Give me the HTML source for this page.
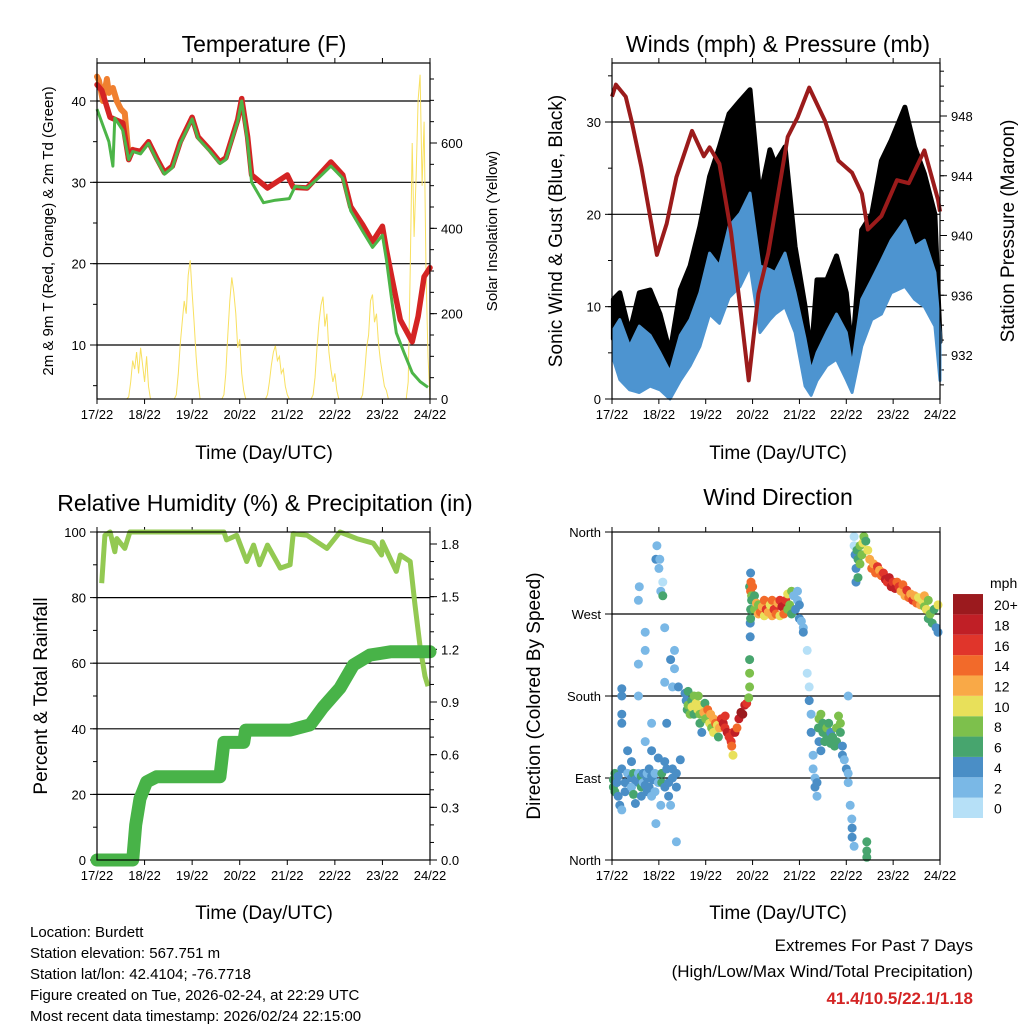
<!DOCTYPE html>
<html><head><meta charset="utf-8"><style>
html,body{margin:0;padding:0;background:#fff;}
svg{display:block;font-family:"Liberation Sans",Arial,sans-serif;}
</style></head><body>
<svg id="s" width="1024" height="1024" viewBox="0 0 1024 1024" xmlns="http://www.w3.org/2000/svg">
<rect x="0" y="0" width="1024" height="1024" fill="#fff"/>
<text x="264" y="52" font-size="23" text-anchor="middle">Temperature (F)</text>
<text x="778" y="52" font-size="23" text-anchor="middle">Winds (mph) &amp; Pressure (mb)</text>
<text x="265" y="511" font-size="23" text-anchor="middle">Relative Humidity (%) &amp; Precipitation (in)</text>
<text x="778" y="505" font-size="23" text-anchor="middle">Wind Direction</text>
<text x="264" y="459" font-size="19" text-anchor="middle">Time (Day/UTC)</text>
<text x="778" y="459" font-size="19" text-anchor="middle">Time (Day/UTC)</text>
<text x="264" y="919" font-size="19" text-anchor="middle">Time (Day/UTC)</text>
<text x="778" y="919" font-size="19" text-anchor="middle">Time (Day/UTC)</text>
<text transform="translate(53,231) rotate(-90)" font-size="15" text-anchor="middle">2m &amp; 9m T (Red, Orange) &amp; 2m Td (Green)</text>
<text transform="translate(497,231) rotate(-90)" font-size="15" text-anchor="middle">Solar Insolation (Yellow)</text>
<text transform="translate(562,231) rotate(-90)" font-size="19" text-anchor="middle">Sonic Wind &amp; Gust (Blue, Black)</text>
<text transform="translate(1014,231) rotate(-90)" font-size="19" text-anchor="middle">Station Pressure (Maroon)</text>
<text transform="translate(47,696) rotate(-90)" font-size="19" text-anchor="middle">Percent &amp; Total Rainfall</text>
<text transform="translate(540,696) rotate(-90)" font-size="19" text-anchor="middle">Direction (Colored By Speed)</text>
<g font-size="15">
<text x="30" y="937">Location: Burdett</text>
<text x="30" y="958">Station elevation: 567.751 m</text>
<text x="30" y="979">Station lat/lon: 42.4104; -76.7718</text>
<text x="30" y="1000">Figure created on Tue, 2026-02-24, at 22:29 UTC</text>
<text x="30" y="1021">Most recent data timestamp: 2026/02/24 22:15:00</text>
</g>
<g font-size="17" text-anchor="end">
<text x="973" y="951">Extremes For Past 7 Days</text>
<text x="973" y="977">(High/Low/Max Wind/Total Precipitation)</text>
<text x="973" y="1004" fill="#d42424" font-weight="bold">41.4/10.5/22.1/1.18</text>
</g>
<g id="g"></g>
</svg>
<script>
const dayLabels=["17/22","18/22","19/22","20/22","21/22","22/22","23/22","24/22"];
// temperature
const tT=[0,2.4,6.6,13,16,18,22,26,30,34,38,42,48,51,57,62,65,71,73,76,78,86,96,99,106,112,118,124,128,134,139,144,146,149,153,159,162,165,168];
const tempR=[42,41.3,38,37.3,32.8,34,33.8,35,33,31.2,32,35,38,35.6,34,32.5,33,37.7,40.3,35.6,30.9,29.3,30.9,29.4,29.3,30.9,32.5,30.9,27,24.8,22.7,24.6,21.7,18,13.1,10.4,13.5,18.4,19.5];
const tO=[0,1,3,5,6,8,10,12,14,16,18];
const tempO=[43,42.5,40,42.7,41,41.6,40,39,38.5,33,34];
const tD=[0,3,6,8,9,13,16,18,22,26,30,34,38,42,48,51,57,62,65,71,73,76,78,84,90,97,100,106,112,118,124,128,134,139,144,146,149,151,155,159,163,167];
const dew=[39,37,35,32,37.9,36.4,32.8,33.8,33.5,34.8,32.8,31,31.8,34.8,37.8,35.4,33.8,32.3,32.8,37.5,40,35,30,27.5,27.8,28,29.5,29.3,30.6,32,30.5,26.5,24,22,23.5,20.5,15,11.5,9,6.6,5.5,4.8];
const solar=[0,0,0,0,0,0,0,0,0,0,0,0,0,0,0,0,5,40,90,70,110,60,120,80,40,100,30,0,0,0,0,0,0,0,0,0,0,0,0,0,10,60,130,180,230,200,290,325,250,180,100,40,0,0,0,0,0,0,0,0,0,0,0,0,10,60,150,230,285,250,200,120,140,60,20,0,0,0,0,0,0,0,0,0,0,0,10,40,80,110,125,90,100,60,70,30,10,0,0,0,0,0,0,0,0,0,0,0,0,10,50,120,180,220,240,170,200,110,70,40,60,20,0,0,0,0,0,0,0,0,0,0,0,0,10,60,120,150,230,245,180,200,130,90,60,30,20,0,0,0,0,0,0,0,0,0,0,40,300,600,380,520,700,760,500,650,300,100,0];
// winds
const windT=[0.7,4,9,14,19.5,24.6,29.7,35,40,45,50,55,60,65.6,70.7,75.8,80.9,83.5,88.6,93.8,98.9,102,105,110,115,120,123,127.9,133,138,143,150,155,160,165.4,168];
const windHi=[7.5,8.6,5.7,7.9,6.9,5,2.9,6.9,8.6,11.5,15.8,14.4,18.7,20.1,22.3,14.4,14,13.7,15.8,11.5,6.5,3,5,7.2,9.2,7.2,3.5,10.8,12.9,15,17.2,19.3,16.5,17.2,13.7,7.2];
const windLo=[4.3,2.1,1,0.7,1.4,1,0,2,3.6,5.7,9.2,8.2,11,12.2,14.4,7.2,8.6,9.2,10,7.2,1.4,0.4,2,3.6,4.3,2.1,0.7,5.7,8.6,9.2,11.5,12.2,10.8,10,7.9,2];
const gustHi=[10.8,11.5,7.2,11.5,11.8,9.2,5,11.8,14.4,18.7,24.1,27.3,30.9,32.3,33.5,21.9,27,25.5,27.3,16.5,10,4.7,12.9,12.9,15.5,11.5,4.7,18.3,20,25.8,28,31.6,27.3,24.4,20,6.5];
const gustLo=[6.5,7.6,4.7,6.9,5.9,4,1.9,5.9,7.6,10.5,14.8,13.4,17.7,19.1,21.3,13.4,13,12.7,14.8,10.5,5.5,2,4,6.2,8.2,6.2,2.5,9.8,11.9,14,16.2,18.3,15.5,16.2,12.7,6.2];
const presT=[0,2,7,10,15,23,28,33,41,47,50,55,61,66,70,75,80,90,95,101,109,116,123,128,131,138,146,152,160,167,168];
const pres=[949.3,950.1,949.3,947.7,944.6,938.7,940.8,943.9,947,945.3,945.9,944.8,940.2,934.8,930.3,936.1,938.8,946.6,947.9,949.9,947.7,945,944.2,942.8,940.4,941.3,943.7,943.5,945.7,942.4,941.6];
// humidity / precip
const rhT=[2.35,4,6.6,9,10,14,16.6,64,65.4,70.5,75.5,79,82,86,92.5,97.4,99,106,116,122.6,131,139.4,143.6,144,151,153,158,160.4,163,165.5,167];
const rh=[84.4,99,100,94,98,95,100,100,97.6,99,91,96,90,96,89,90,99.5,99,95,100,98,96.6,93,97,88,93,91,78,65,56,53];
const precipT=[0,18,19.5,21.7,25,30,62,64,74,75,97.4,107.5,114,122.6,129.3,137.7,148,168];
const precip=[0,0,0.2,0.35,0.445,0.474,0.474,0.67,0.67,0.74,0.74,0.77,0.87,0.98,1.11,1.167,1.186,1.186];
// wind direction [t, deg, mph]
const dirObs=[[0.7,88,6],[0.7,80,6],[1.5,95,6],[1.5,75,6],[2.5,85,5],[3.2,92,4],[3.2,70,4],[4,60,4],[5,55,2],[5,100,4],[5,160,4],[5,180,4],[5,188,4],[5,150,4],[6.7,75,4],[6.7,85,4],[8,95,3],[8,120,4],[10,90,4],[10,80,3],[10,108,4],[11,95,6],[11,72,6],[12,88,4],[12,62,4],[13.5,95,3],[13.5,85,4],[13.5,180,3],[13.5,215,2],[13.5,285,2],[14,300,2],[15,92,6],[15,80,6],[15,70,5],[16,95,4],[16,85,3],[17,82,4],[17,130,2],[17,230,3],[17,250,2],[18,90,4],[18,75,4],[18,95,3],[19,80,4],[19,100,5],[20.3,92,4],[20.3,70,3],[20.3,150,3],[20.3,120,4],[21,88,4],[22,95,3],[22,75,3],[22.5,40,2],[22.5,330,4],[23,345,2],[23.7,85,3],[23.7,112,4],[24,320,2],[24.5,330,2],[25,295,2],[25,60,2],[25.5,85,6],[25.5,95,6],[26,305,1],[26,290,6],[27,195,2],[27,108,4],[27,255,2],[27.1,80,4],[28,150,4],[28,100,4],[29,85,4],[29,70,4],[30,220,4],[30,60,2],[31,90,4],[31,100,4],[31,190,2],[32,210,2],[32,230,2],[33,95,4],[33,80,4],[33,20,2],[34,190,4],[35,110,4],
[37.4,183,4],[38,175,4],[38.5,165,6],[39,185,6],[39,170,8],[40,160,8],[40.8,175,6],[41,168,10],[42,180,8],[42,160,6],[43,172,10],[44,165,10],[44.2,180,8],[45,150,6],[45,160,8],[46,170,10],[46,140,4],[47,162,12],[47.6,172,6],[48,155,8],[49,165,14],[50,150,10],[50.5,160,12],[51,145,8],[52,155,12],[52,140,10],[53,150,14],[54,148,10],[54.5,135,6],[55,145,12],[56,155,16],[57,150,18],[57.9,145,16],[58,158,16],[59,140,18],[60,135,16],[61,130,16],[61.3,125,14],[62,115,10],[62,140,16],[63,140,18],[64,145,14],[65,155,18],[66,162,20],[67,160,20],[68,170,18],[69,172,16],[70,178,8],
[70.5,190,8],[70.5,205,8],[70.5,220,6],[70.8,245,4],[70.8,260,4],[71,265,6],[71,275,6],[70.5,300,6],[71,315,4],[71,295,14],[71.2,305,14],[71.5,290,8],[71.5,285,6],
[72,300,14],[73,290,6],[73,275,8],[74,282,12],[75,270,12],[75,280,8],[76,272,14],[77,278,12],[78,268,10],[78,285,14],[79,275,16],[80,272,12],[81,280,10],[82,268,12],[82,285,14],[83,275,16],[84,270,14],[85,282,12],[86,268,10],[86,285,16],[87,278,18],[88,270,14],[89,285,16],[90,292,10],[90,275,8],[91,280,8],[92,295,8],[92,270,6],[93,290,2],[94,275,4],[95,295,2],[95,285,2],[96,280,4],[96,265,4],[97,262,2],[98,255,2],[98,250,4],
[100,230,0],[100,205,0],[101,190,0],[101,175,4],[102,160,2],[102,140,4],[103,115,2],[103,100,2],[104,90,2],[104,80,4],[105,70,2],[105,85,4],
[105.7,145,6],[106,155,8],[107,160,8],[106,130,4],[107,120,4],[108,150,6],[108,140,6],[109,130,6],[110,145,8],[110,135,6],[111,150,6],[112,140,4],[112,128,6],[113,135,6],[114,125,6],[115,130,6],[115,145,8],[116,158,8],[117,150,8],[117,140,6],[118,125,4],[118,115,4],[119,110,2],[120,100,4],[121,95,2],[121,85,2],[121,180,2],[122,60,2],[122.8,45,2],[123,35,4],[123,25,4],[124,15,2],
[124,355,0],[124,345,0],[124.5,335,4],[125,320,4],[125,305,4],[125.5,340,6],[126,330,6],[126,310,6],[127,325,8],[127,345,8],[128,335,8],[128.5,348,10],[129,355,8],[130,350,6],[130.5,20,6],[130.5,10,6],[130.5,3,6],[131,340,10],[132,330,12],[133,320,14],[134,325,12],[135,315,14],[136,322,16],[137,318,12],[138,312,14],[139,315,16],[140,308,18],[141,305,16],[142,310,18],[143,300,18],[144,305,16],[145,298,18],[146,305,14],[147,300,16],[148,295,12],[149,302,14],[150,290,12],[151,296,16],[152,288,14],[153,292,12],[154,285,16],[155,290,12],[156,282,14],[157,288,10],[158,280,12],[159,285,10],[160,278,8],[160,290,12],[161,275,10],[162,285,8],[162,265,6],[163,270,8],[164,260,6],[165,275,6],[166,255,4],[167,250,4],[167,280,10]];
const speedLabels=["0","2","4","6","8","10","12","14","16","18","20+"];
const speedColors=["#b6e0f7","#7ab8e6","#4a8ec6","#47a56e","#7dc04c","#e8e05a","#f9a947","#f26a2a","#e0352b","#c01f26","#9b1a1e"];

const NS="http://www.w3.org/2000/svg";
const G=document.getElementById('g');
function el(tag,attrs,parent){const e=document.createElementNS(NS,tag);for(const k in attrs)e.setAttribute(k,attrs[k]);(parent||G).appendChild(e);return e;}
function lin(d0,d1,r0,r1){return v=>r0+(v-d0)/(d1-d0)*(r1-r0);}
function path(xs,ys,X,Y){return xs.map((t,i)=>(i?'L':'M')+X(t).toFixed(1)+','+Y(ys[i]).toFixed(1)).join('');}

function frame(x0,y0,x1,y1,name){
  const X=lin(0,168,x0,x1);
  const g=el('g',{});
  
  
  dayLabels.forEach((lb,i)=>{const x=X(i*24);
    el('line',{x1:x,x2:x,y1:y1,y2:y1+5,stroke:'#000','stroke-width':1},g);
    el('line',{x1:x,x2:x,y1:y0,y2:y0-5,stroke:'#000','stroke-width':1},g);
    const t=el('text',{x:x,y:y1+20,'font-size':13,'text-anchor':'middle'},g);t.textContent=lb;});
  return X;
}
function yAxis(x0,x1,y0,y1,Y,major,minor,labels,side,grid,name){
  const g=el('g',{});
  
  
  const x=side==='l'?x0:x1,d=side==='l'?-1:1;
  minor.forEach(v=>{const y=Y(v);if(y<y0-0.5||y>y1+0.5)return;el('line',{x1:x,x2:x+d*4,y1:y,y2:y,stroke:'#000'},g);});
  major.forEach((v,i)=>{const y=Y(v);
    el('line',{x1:x,x2:x+d*7,y1:y,y2:y,stroke:'#000'},g);
    if(grid&&y>y0+1&&y<y1-1)el('line',{x1:x0,x2:x1,y1:y,y2:y,stroke:'#000','stroke-width':1.2},g);
    const t=el('text',{x:x+d*11,y:y+5,'font-size':13,'text-anchor':side==='l'?'end':'start'},g);t.textContent=labels[i];});
}
function box(x0,y0,x1,y1){el('rect',{x:x0,y:y0,width:x1-x0,height:y1-y0,fill:'none',stroke:'#000','stroke-width':1.2});}
function range(a,b,s){const r=[];for(let v=a;v<=b+1e-9;v+=s)r.push(+v.toFixed(3));return r;}

// ---------- Panel 1: temperature ----------
(function(){
  const x0=97,x1=430,y0=63,y1=399;
  const X=frame(x0,y0,x1,y1,'temp');
  const Y=lin(10,40,345,101), YS=lin(0,600,399,143);
  yAxis(x0,x1,y0,y1,Y,[10,20,30,40],range(5,40,5),["10","20","30","40"],'l',true,'temp-y-axis');
  yAxis(x0,x1,y0,y1,YS,[0,200,400,600],range(0,750,50),["0","200","400","600"],'r',false,'solar-y-axis');
  const sx=solar.map((v,i)=>i);
  let p=el('path',{d:path(sx,solar,X,YS),fill:'none',stroke:'#f8e060','stroke-width':1});
  
  
  p=el('path',{d:path(tO,tempO,X,Y),fill:'none',stroke:'#f08030','stroke-width':6,'stroke-linejoin':'round','stroke-linecap':'round'});
  
  
  p=el('path',{d:path(tT,tempR,X,Y),fill:'none',stroke:'#d42424','stroke-width':5.5,'stroke-linejoin':'round','stroke-linecap':'round'});
  
  
  p=el('path',{d:path(tD,dew,X,Y),fill:'none',stroke:'#4cb548','stroke-width':3,'stroke-linejoin':'round'});
  
  
  box(x0,y0,x1,y1);
})();

// ---------- Panel 2: winds ----------
(function(){
  const x0=612,x1=940,y0=63,y1=399;
  const X=frame(x0,y0,x1,y1,'winds');
  const Y=lin(0,30,399,122), YP=lin(932,948,355,116);
  yAxis(x0,x1,y0,y1,Y,[0,10,20,30],range(5,35,5),["0","10","20","30"],'l',true,'wind-y-axis');
  yAxis(x0,x1,y0,y1,YP,[932,936,940,944,948],range(930,951,1),["932","936","940","944","948"],'r',false,'pressure-y-axis');
  const band=(lo,hi)=>path(windT,hi,X,Y)+windT.slice().reverse().map((t,i)=>'L'+X(t).toFixed(1)+','+Y(lo[lo.length-1-i]).toFixed(1)).join('')+'Z';
  let p=el('path',{d:band(gustLo,gustHi),fill:'#000',stroke:'#000','stroke-width':5,'stroke-linejoin':'round'});
  
  
  p=el('path',{d:band(windLo,windHi),fill:'#4d94d0',stroke:'#4d94d0','stroke-width':3,'stroke-linejoin':'round'});
  
  
  p=el('path',{d:path(presT,pres,X,YP),fill:'none',stroke:'#9b1b1b','stroke-width':4,'stroke-linejoin':'round'});
  
  
  box(x0,y0,x1,y1);
})();

// ---------- Panel 3: RH & precip ----------
(function(){
  const x0=97,x1=430,y0=532,y1=860;
  const X=frame(x0,y0,x1,y1,'rh');
  const Y=lin(0,100,860,532), YP=lin(0,1.8,860,544);
  yAxis(x0,x1,y0,y1,Y,[0,20,40,60,80,100],range(0,100,10),["0","20","40","60","80","100"],'l',true,'rh-y-axis');
  yAxis(x0,x1,y0,y1,YP,[0,0.3,0.6,0.9,1.2,1.5,1.8],range(0,1.8,0.1),["0.0","0.3","0.6","0.9","1.2","1.5","1.8"],'r',false,'precip-y-axis');
  let p=el('path',{d:path(rhT,rh,X,Y),fill:'none',stroke:'#93c952','stroke-width':5,'stroke-linejoin':'round'});
  
  
  p=el('path',{d:path(precipT,precip,X,YP),fill:'none',stroke:'#48b348','stroke-width':13,'stroke-linejoin':'round','stroke-linecap':'round'});
  
  
  box(x0,y0,x1,y1);
})();

// ---------- Panel 4: wind direction ----------
(function(){
  const x0=612,x1=940,y0=532,y1=860;
  const X=frame(x0,y0,x1,y1,'dir');
  const Y=lin(0,360,860,532);
  yAxis(x0,x1,y0,y1,Y,[0,90,180,270,360],[],["North","East","South","West","North"],'l',true,'dir-y-axis');
  dirObs.forEach(o=>{
    const ci=Math.min(10,Math.floor(o[2]/2));
    const c=el('circle',{cx:X(o[0]).toFixed(1),cy:Y(o[1]).toFixed(1),r:4.5,fill:speedColors[ci]});
    
    
  });
  box(x0,y0,x1,y1);
  const lg=el('g',{});
  
  
  const t0=el('text',{x:990,y:588,'font-size':14},lg);t0.textContent='mph';
  speedColors.forEach((c,i)=>{const y=818-(i+1)*20.36;
    el('rect',{x:953,y:y,width:30,height:20.36,fill:c},lg);
    const t=el('text',{x:994,y:y+16,'font-size':14},lg);t.textContent=speedLabels[i];});
})();
</script>
</body></html>
